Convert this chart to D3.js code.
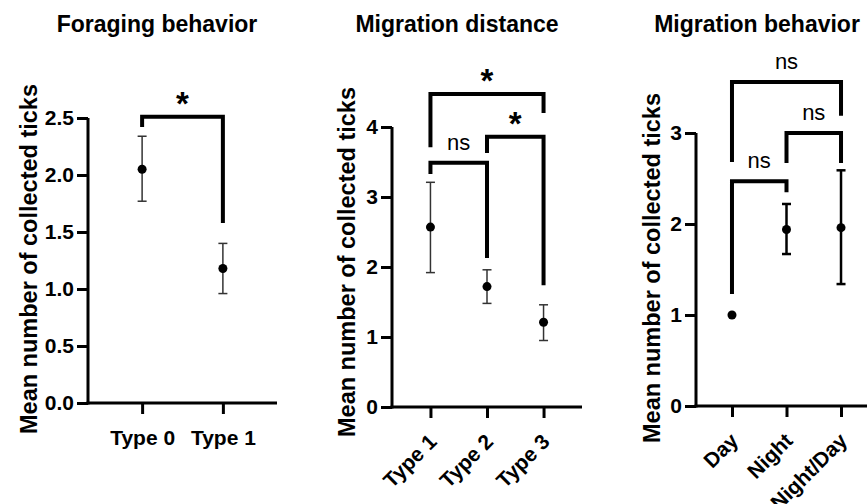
<html>
<head>
<style>
body { margin: 0; background: #fff; }
svg text { font-family: "Liberation Sans", Arial, sans-serif; fill: #000; }
.title { font-size: 23px; font-weight: bold; text-anchor: middle; }
.ylab { font-size: 23.5px; font-weight: bold; text-anchor: middle; }
.tick text { font-size: 21px; font-weight: bold; }
.sig { text-anchor: middle; }
</style>
</head>
<body>
<svg id="chart" width="867" height="504"></svg>
<script src="https://cdn.jsdelivr.net/npm/d3@7"></script>
<script>
// data
var foragingCats = ["Type 0", "Type 1"];
var foragingMean = [2.05, 1.18];
var foragingLow  = [1.77, 0.96];
var foragingHigh = [2.34, 1.40];
var foragingTicks = [0, 0.5, 1.0, 1.5, 2.0, 2.5];
var foragingSig = [
  {a: "Type 0", b: "Type 1", top: 2.51, left: 2.42, right: 1.58, label: "*"}
];

var distanceCats = ["Type 1", "Type 2", "Type 3"];
var distanceMean = [2.57, 1.72, 1.21];
var distanceLow  = [1.92, 1.48, 0.95];
var distanceHigh = [3.21, 1.96, 1.46];
var distanceTicks = [0, 1, 2, 3, 4];
var distanceSig = [
  {a: "Type 1", b: "Type 2", top: 3.49, left: 3.33, right: 2.13, label: "ns"},
  {a: "Type 2", b: "Type 3", top: 3.86, left: 3.63, right: 1.74, label: "*"},
  {a: "Type 1", b: "Type 3", top: 4.47, left: 3.71, right: 4.20, label: "*"}
];

var behaviorCats = ["Day", "Night", "Night/Day"];
var behaviorMean = [1.0, 1.94, 1.96];
var behaviorLow  = [1.0, 1.67, 1.34];
var behaviorHigh = [1.0, 2.22, 2.59];
var behaviorTicks = [0, 1, 2, 3];
var behaviorSig = [
  {a: "Day", b: "Night", top: 2.47, left: 1.23, right: 2.35, label: "ns"},
  {a: "Night", b: "Night/Day", top: 3.0, left: 2.67, right: 2.67, label: "ns"},
  {a: "Day", b: "Night/Day", top: 3.56, left: 2.68, right: 3.19, label: "ns"}
];

var svg = d3.select("#chart");

function panel(o) {
  var g = svg.append("g");
  var x = d3.scalePoint().domain(o.cats).range([o.x0, o.x1]).padding(o.pad);
  var y = d3.scaleLinear().domain([0, o.ymax]).range([o.y0, o.y1]);

  // title
  g.append("text").attr("class", "title")
    .attr("x", o.tx).attr("y", 32).text(o.title);

  // y label
  g.append("text").attr("class", "ylab")
    .attr("transform", "translate(" + o.lx + "," + o.ly + ") rotate(-90)")
    .text("Mean number of collected ticks");

  // y axis
  var ya = g.append("g").attr("transform", "translate(" + o.x0 + ",0)")
    .call(d3.axisLeft(y).tickValues(o.ticks).tickSize(11).tickPadding(3)
      .tickFormat(o.fmt));
  ya.select(".domain").remove();
  ya.selectAll(".tick line").attr("stroke-width", 3);
  g.append("line").attr("x1", o.x0).attr("x2", o.x0)
    .attr("y1", y(0) + 1.5).attr("y2", y(o.ymax))
    .attr("stroke", "#000").attr("stroke-width", 3);

  // x axis
  var xa = g.append("g").attr("transform", "translate(0," + y(0) + ")")
    .call(d3.axisBottom(x).tickSize(11).tickPadding(6));
  xa.select(".domain").remove();
  xa.selectAll(".tick line").attr("stroke-width", 3);
  if (o.rotate) {
    xa.selectAll(".tick text")
      .attr("text-anchor", "end")
      .attr("dy", null)
      .attr("transform", "translate(7,36) rotate(-45)")
      .attr("y", 0);
  } else {
    xa.selectAll(".tick text").attr("dy", "1.2em");
  }
  g.append("line").attr("x1", o.x0 - 1.5).attr("x2", o.x1)
    .attr("y1", y(0)).attr("y2", y(0))
    .attr("stroke", "#000").attr("stroke-width", 3);

  // error bars
  var rows = o.cats.map(function(c, i) {
    return {cat: c, m: o.mean[i], lo: o.low[i], hi: o.high[i]};
  });
  var eb = g.selectAll(".eb").data(rows.filter(function(d) { return d.hi > d.lo; }))
    .enter().append("g").attr("stroke", o.ebColor).attr("stroke-width", o.ebWidth);
  eb.append("line").attr("x1", function(d) { return x(d.cat); })
    .attr("x2", function(d) { return x(d.cat); })
    .attr("y1", function(d) { return y(d.lo); })
    .attr("y2", function(d) { return y(d.hi); });
  eb.append("line").attr("x1", function(d) { return x(d.cat) - 4.5; })
    .attr("x2", function(d) { return x(d.cat) + 4.5; })
    .attr("y1", function(d) { return y(d.lo); })
    .attr("y2", function(d) { return y(d.lo); });
  eb.append("line").attr("x1", function(d) { return x(d.cat) - 4.5; })
    .attr("x2", function(d) { return x(d.cat) + 4.5; })
    .attr("y1", function(d) { return y(d.hi); })
    .attr("y2", function(d) { return y(d.hi); });

  g.selectAll(".dot").data(rows).enter().append("circle")
    .attr("cx", function(d) { return x(d.cat); })
    .attr("cy", function(d) { return y(d.m); })
    .attr("r", 4.5).attr("fill", "#000");

  // significance brackets
  var br = g.selectAll(".br").data(o.sig).enter().append("g");
  br.append("path")
    .attr("d", function(d) {
      return "M" + x(d.a) + "," + y(d.left) + "V" + y(d.top) +
        "H" + x(d.b) + "V" + y(d.right);
    })
    .attr("fill", "none").attr("stroke", "#000").attr("stroke-width", 4)
    .attr("stroke-linejoin", "miter");
  br.append("text").attr("class", "sig")
    .attr("x", function(d) { return (x(d.a) + x(d.b)) / 2; })
    .attr("y", function(d) { return d.label == "*" ? y(d.top) - 2 : y(d.top) - 13; })
    .style("font-size", function(d) { return d.label == "*" ? "33px" : "22px"; })
    .style("font-weight", function(d) { return d.label == "*" ? "bold" : "normal"; })
    .text(function(d) { return d.label; });
}

panel({title: "Foraging behavior", tx: 157, lx: 37, ly: 259,
  cats: foragingCats, mean: foragingMean, low: foragingLow, high: foragingHigh,
  ticks: foragingTicks, sig: foragingSig, fmt: d3.format(".1f"),
  x0: 88, x1: 277, pad: 0.67, y0: 403, y1: 118, ymax: 2.5,
  ebColor: "#333", ebWidth: 1.5, rotate: false});

panel({title: "Migration distance", tx: 457, lx: 355, ly: 262,
  cats: distanceCats, mean: distanceMean, low: distanceLow, high: distanceHigh,
  ticks: distanceTicks, sig: distanceSig, fmt: d3.format("d"),
  x0: 392, x1: 582, pad: 0.68, y0: 407, y1: 127, ymax: 4,
  ebColor: "#333", ebWidth: 1.5, rotate: true});

panel({title: "Migration behavior", tx: 757, lx: 660, ly: 268,
  cats: behaviorCats, mean: behaviorMean, low: behaviorLow, high: behaviorHigh,
  ticks: behaviorTicks, sig: behaviorSig, fmt: d3.format("d"),
  x0: 696, x1: 877, pad: 0.66, y0: 406, y1: 133, ymax: 3,
  ebColor: "#000", ebWidth: 2.5, rotate: true});
</script>
</body>
</html>
